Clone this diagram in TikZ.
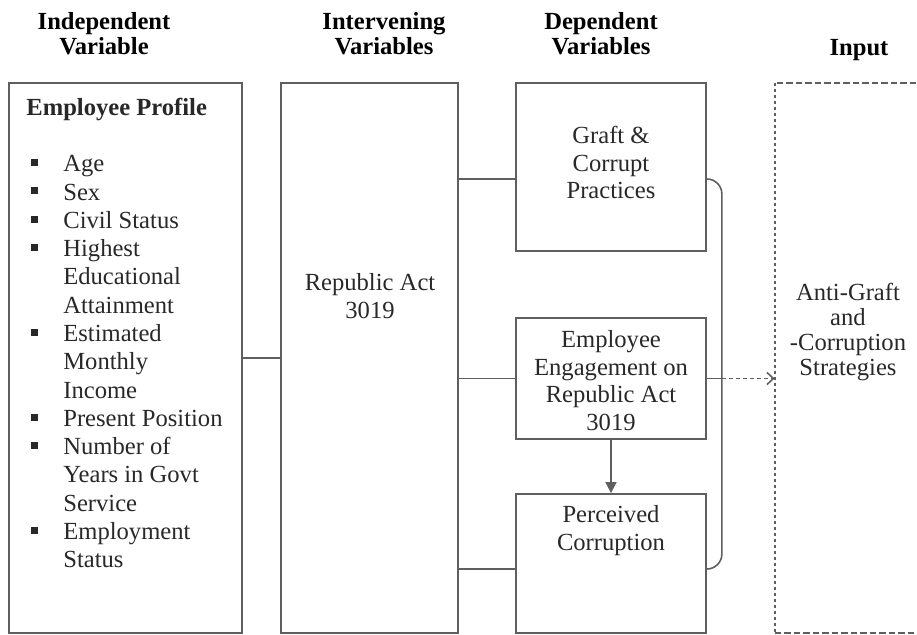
\documentclass[tikz,border=0pt]{standalone}
\usepackage{fontspec}
\setmainfont{Liberation Serif}
\usetikzlibrary{arrows.meta}
\definecolor{edgegray}{RGB}{95,95,95}
\definecolor{inkgray}{RGB}{40,40,40}
\newcommand{\sqbullet}{\raisebox{3.2pt}{\rule{4pt}{4pt}}}

\tikzset{
  varbox/.style={draw=edgegray, line width=1pt, inner sep=0pt},
  conn/.style={draw=edgegray, line width=0.9pt},
  boxtext/.style={inner sep=0pt, anchor=north, align=center, text=inkgray},
  headtext/.style={inner sep=0pt, anchor=north, align=center, font=\bfseries\fontsize{14}{14.2}\selectfont},
}

\begin{document}
\begin{tikzpicture}[x=0.2mm, y=-0.2mm]
\useasboundingbox (0,0) rectangle (917,635);

% headings
\node[headtext] (hind) at (104,12) {Independent\\Variable};
\node[headtext] (hint) at (384,12) {Intervening\\Variables};
\node[headtext] (hdep) at (601,12) {Dependent\\Variables};
\node[headtext] (hinp) at (859,39) {Input};

% boxes
\node[varbox, minimum width=46.6mm, minimum height=110mm] (indep) at (125.5,358) {};
\node[varbox, minimum width=35.4mm, minimum height=110mm] (interv) at (369.5,358) {};
\node[varbox, minimum width=38mm, minimum height=33.6mm] (graft) at (611,167) {};
\node[varbox, minimum width=38mm, minimum height=24.2mm] (engage) at (611,378.5) {};
\node[varbox, minimum width=38mm, minimum height=27.8mm] (perceive) at (611,563.5) {};
\node[inner sep=0pt, minimum width=32mm, minimum height=110mm] (input) at (855,358) {};

% texts in the boxes
\node[anchor=north west, inner sep=0pt, text=inkgray, font=\fontsize{14}{16.1}\selectfont] (profile) at (26,95)
  {\begin{tabular}{@{}p{7.4mm}@{}l@{}}
   \multicolumn{2}{@{}l@{}}{\textbf{Employee Profile}}\\
   \\
   \hspace*{1mm}\sqbullet & Age\\
   \hspace*{1mm}\sqbullet & Sex\\
   \hspace*{1mm}\sqbullet & Civil Status\\
   \hspace*{1mm}\sqbullet & Highest\\
                          & Educational\\
                          & Attainment\\
   \hspace*{1mm}\sqbullet & Estimated\\
                          & Monthly\\
                          & Income\\
   \hspace*{1mm}\sqbullet & Present Position\\
   \hspace*{1mm}\sqbullet & Number of\\
                          & Years in Govt\\
                          & Service\\
   \hspace*{1mm}\sqbullet & Employment\\
                          & Status
   \end{tabular}};
\node[boxtext, font=\fontsize{14}{15.9}\selectfont] (ra) at (370,273) {Republic Act\\3019};
\node[boxtext, font=\fontsize{14}{15.6}\selectfont] (gt) at (611,126) {Graft \&\\Corrupt\\Practices};
\node[boxtext, font=\fontsize{14}{15.7}\selectfont] (et) at (611,330) {Employee\\Engagement on\\Republic Act\\3019};
\node[boxtext, font=\fontsize{14}{15.9}\selectfont] (pt) at (611,505) {Perceived\\Corruption};
\node[boxtext, font=\fontsize{14}{14.2}\selectfont] (it) at (848,283) {Anti-Graft\\and\\-Corruption\\Strategies};

% input box, open to the right
\draw[edgegray, line width=1pt, dash pattern=on 1.3mm off 0.6mm] (input.north east) -- (input.north west);
\draw[edgegray, line width=1pt, dash pattern=on 0.6mm off 0.6mm] (input.north west) -- (input.south west);
\draw[edgegray, line width=1pt, dash pattern=on 1.3mm off 0.6mm] (input.south west) -- (input.south east);

% connectors
\coordinate (gw) at ([yshift=-2.4mm]graft.west);
\coordinate (ge) at ([yshift=-2.4mm]graft.east);
\coordinate (pw) at ([yshift=-1.1mm]perceive.west);
\coordinate (pe) at ([yshift=-1.1mm]perceive.east);
\coordinate (bend) at ([xshift=3mm]engage.east);

\draw[conn] (indep.east) -- (interv.west);
\draw[conn] (interv.east |- gw) -- (gw);
\draw[conn] (interv.east |- engage.west) -- (engage.west);
\draw[conn] (interv.east |- pw) -- (pw);
\draw[conn, rounded corners=3mm] (ge) -- (bend |- ge) -- (bend |- pe) -- (pe);
\draw[conn] (engage.east) -- (bend);
\draw[conn, dash pattern=on 0.8mm off 0.6mm, -{Straight Barb[length=1.3mm,width=2.4mm]}] (bend) -- (input.west |- bend);
\draw[conn, -{Triangle[length=2.2mm,width=2.2mm]}] (engage.south) -- (perceive.north);
\end{tikzpicture}
\end{document}
